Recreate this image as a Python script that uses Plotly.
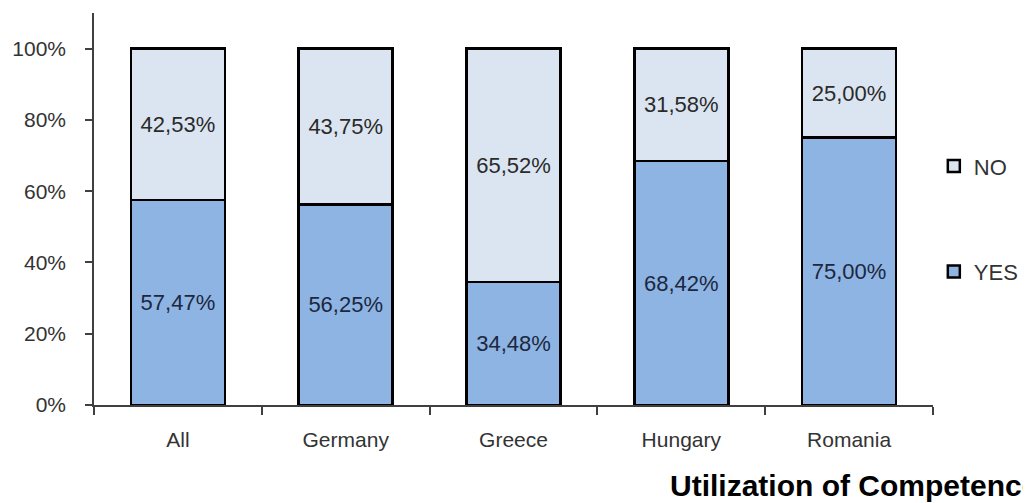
import plotly.graph_objects as go

categories = ["All", "Germany", "Greece", "Hungary", "Romania"]
yes_values = [57.47, 56.25, 34.48, 68.42, 75.00]
no_values = [42.53, 43.75, 65.52, 31.58, 25.00]
y_ticks = [0, 20, 40, 60, 80, 100]
title_text = "Utilization of Competences"

def fmt(v):
    return f"{v:.2f}%".replace(".", ",")

FONT = "Liberation Sans, Arial, sans-serif"
YES_COLOR = "#8DB4E2"
NO_COLOR = "#DBE5F1"

fig = go.Figure()
fig.add_trace(go.Bar(
    x=categories, y=yes_values, name="YES", legendgroup="yes", legendrank=2,
    marker=dict(color=YES_COLOR, line=dict(color="#000000", width=2.5)),
    text=[fmt(v) for v in yes_values], textposition="inside",
    insidetextanchor="middle", textangle=0,
    textfont=dict(family=FONT, size=22, color="#1c2740"),
    hoverinfo="skip",
))
fig.add_trace(go.Bar(
    x=categories, y=no_values, name="NO", legendgroup="no", legendrank=1,
    marker=dict(color=NO_COLOR, line=dict(color="#000000", width=2.5)),
    text=[fmt(v) for v in no_values], textposition="inside",
    insidetextanchor="middle", textangle=0,
    textfont=dict(family=FONT, size=22, color="#2a2a2a"),
    hoverinfo="skip",
))

# page body has an 8px margin, so the figure is 8px smaller and shifted
fig.update_layout(
    width=1023, height=495,
    margin=dict(l=86, r=98, t=5, b=98, pad=0, autoexpand=False),
    barmode="stack", bargap=0.44,
    paper_bgcolor="white", plot_bgcolor="white",
    font=dict(family=FONT, size=22, color="#333333"),
    showlegend=True,
    legend=dict(
        xref="container", yref="container",
        x=0.905, xanchor="left", y=0.723, yanchor="top",
        traceorder="grouped", tracegroupgap=74,
        font=dict(family=FONT, size=22, color="#333333"),
        bgcolor="rgba(0,0,0,0)", itemwidth=30,
    ),
)

fig.update_xaxes(
    automargin=False,
    showline=True, linecolor="#404040", linewidth=1.5,
    ticks="outside", ticklen=8, tickcolor="#404040", tickwidth=1.5,
    tickson="boundaries", showgrid=False, zeroline=False,
    tickfont=dict(family=FONT, size=21, color="#333333"),
    ticklabelstandoff=15,
)
fig.update_yaxes(
    automargin=False,
    range=[0, 110], tickvals=y_ticks, ticktext=[f"{t}%" for t in y_ticks],
    showline=True, linecolor="#404040", linewidth=1.5,
    ticks="outside", ticklen=7, tickcolor="#404040", tickwidth=1.5,
    showgrid=False, zeroline=False,
    tickfont=dict(family=FONT, size=21, color="#333333"),
    ticklabelstandoff=15,
)

fig.add_annotation(
    text=f"<b>{title_text}</b>", xref="paper", yref="paper",
    x=0.684, xanchor="left", y=-0.205, yanchor="middle",
    showarrow=False, font=dict(family=FONT, size=30, color="#000000"),
)

fig.write_html("out.html")
